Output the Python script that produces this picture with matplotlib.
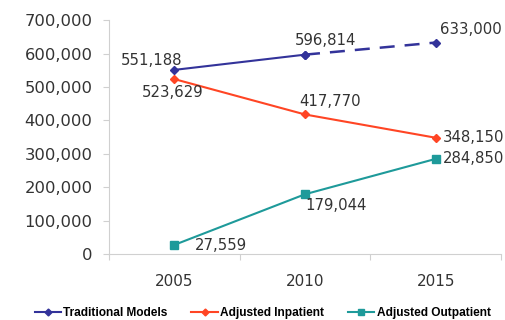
import matplotlib
matplotlib.use("Agg")
import matplotlib.pyplot as plt
from matplotlib.ticker import FuncFormatter

years = ["2005", "2010", "2015"]
traditional = [551188, 596814, 633000]
inpatient = [523629, 417770, 348150]
outpatient = [27559, 179044, 284850]

BLUE = "#33339a"
RED = "#ff4524"
TEAL = "#1e9a9a"

fig = plt.figure(figsize=(5.05, 3.2), dpi=100)
ax = fig.add_axes([0.216, 0.206, 0.776, 0.731])

x = [0.5, 1.5, 2.5]

# traditional: solid first segment, dashed projection
ax.plot(x[:2], traditional[:2], color=BLUE, lw=1.5, marker="D", ms=4)
ax.plot(x[1:], traditional[1:], color=BLUE, lw=1.8, ls=(0, (6, 4)), marker="D", ms=4)
ax.plot(x, inpatient, color=RED, lw=1.5, marker="D", ms=4)
ax.plot(x, outpatient, color=TEAL, lw=1.5, marker="s", ms=5.5)

# legend proxies
h1, = ax.plot([], [], color=BLUE, lw=1.5, marker="D", ms=3.5, label="Traditional Models")
h2, = ax.plot([], [], color=RED, lw=1.5, marker="D", ms=3.5, label="Adjusted Inpatient")
h3, = ax.plot([], [], color=TEAL, lw=1.5, marker="s", ms=4, label="Adjusted Outpatient")

fmt = lambda v: f"{v:,}"
lab = dict(fontsize=10.7, color="#333333")
ax.annotate(fmt(traditional[0]), (x[0], traditional[0]), xytext=(6, 1.5), textcoords="offset points", ha="right", va="bottom", **lab)
ax.annotate(fmt(traditional[1]), (x[1], traditional[1]), xytext=(15, 5), textcoords="offset points", ha="center", va="bottom", **lab)
ax.annotate(fmt(traditional[2]), (x[2], traditional[2]), xytext=(3, 4), textcoords="offset points", ha="left", va="bottom", **lab)
ax.annotate(fmt(inpatient[0]), (x[0], inpatient[0]), xytext=(-1, -4), textcoords="offset points", ha="center", va="top", **lab)
ax.annotate(fmt(inpatient[1]), (x[1], inpatient[1]), xytext=(18, 4), textcoords="offset points", ha="center", va="bottom", **lab)
ax.annotate(fmt(inpatient[2]), (x[2], inpatient[2]), xytext=(5, 0), textcoords="offset points", ha="left", va="center", **lab)
ax.annotate(fmt(outpatient[0]), (x[0], outpatient[0]), xytext=(15, -0.5), textcoords="offset points", ha="left", va="center", **lab)
ax.annotate(fmt(outpatient[1]), (x[1], outpatient[1]), xytext=(0, -3), textcoords="offset points", ha="left", va="top", **lab)
ax.annotate(fmt(outpatient[2]), (x[2], outpatient[2]), xytext=(5, 0), textcoords="offset points", ha="left", va="center", **lab)

ax.set_xlim(0, 3)
ax.set_ylim(0, 700000)
ax.set_yticks(range(0, 700001, 100000))
ax.yaxis.set_major_formatter(FuncFormatter(lambda v, p: f"{int(v):,}"))
ax.set_xticks([0, 1, 2, 3])
ax.set_xticklabels([])
ax.set_xticks(x, minor=True)
ax.set_xticklabels(years, minor=True)
ax.tick_params(axis="x", which="minor", length=0, pad=14, labelsize=11, labelcolor="#333333")
ax.tick_params(axis="x", which="major", length=4, color="#d0d0d0")
ax.tick_params(axis="y", length=4, color="#d0d0d0", labelsize=11.8, labelcolor="#333333", pad=8)

for s in ["top", "right"]:
    ax.spines[s].set_visible(False)
ax.spines["left"].set_color("#d0d0d0")
ax.spines["bottom"].set_color("#d0d0d0")

fig.legend(handles=[h1, h2, h3], loc="center", bbox_to_anchor=(0.52, 0.022), ncol=3,
           frameon=False, prop={"family": "Liberation Sans", "weight": "bold", "size": 8.6},
           handlelength=2.2, columnspacing=2.0, handletextpad=0.2)

fig.savefig("out.png", dpi=100)
